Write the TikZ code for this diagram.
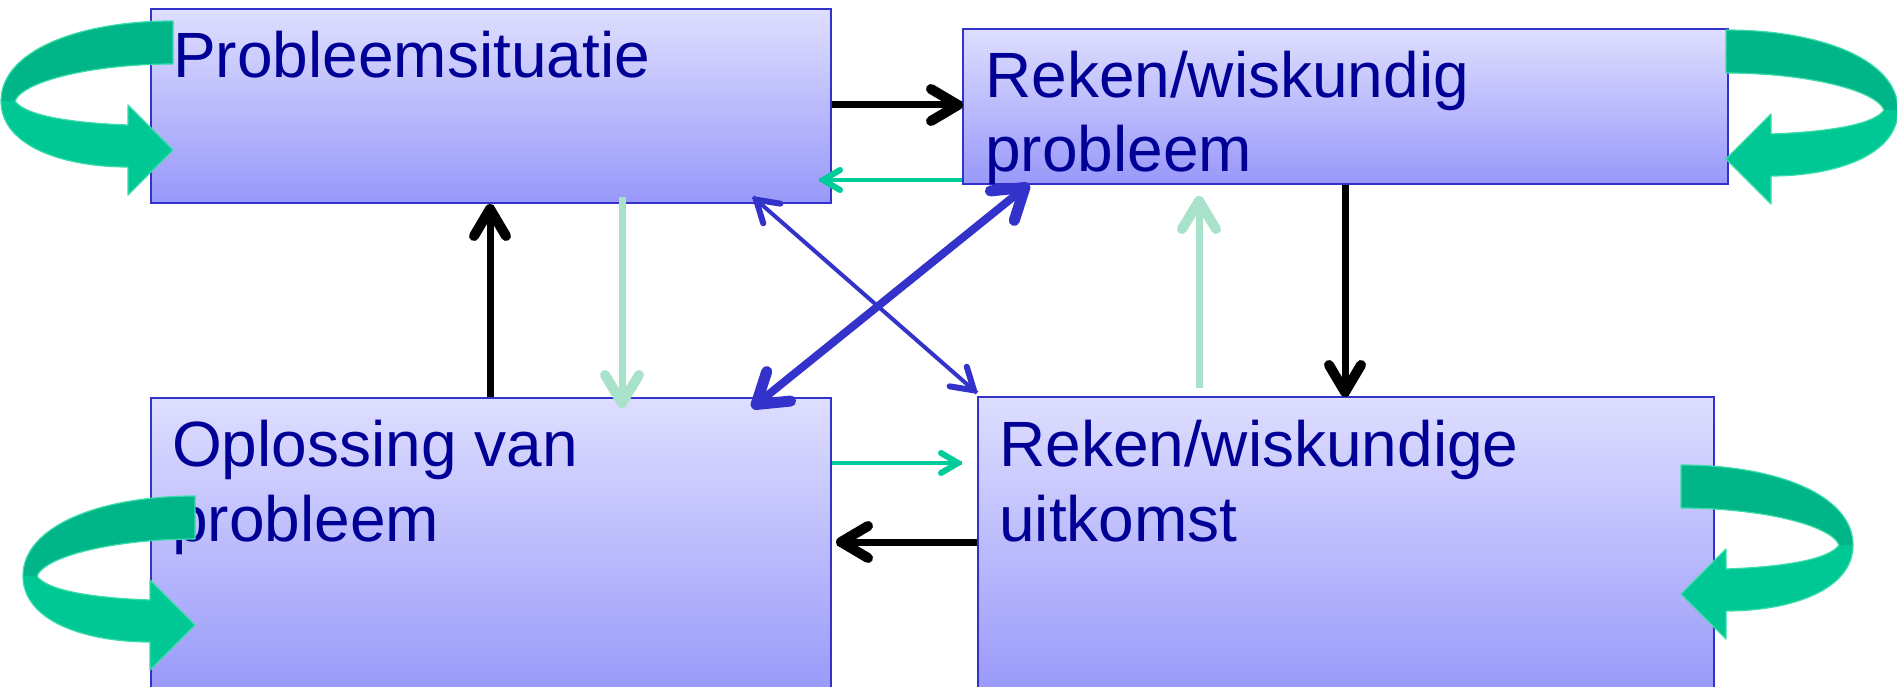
\documentclass[tikz,border=0pt]{standalone}
\usepackage{fontspec}
\setmainfont{Liberation Sans}
\usetikzlibrary{calc,decorations.markings}
\definecolor{boxborder}{RGB}{51,51,204}
\definecolor{boxtop}{RGB}{222,222,255}
\definecolor{boxbot}{RGB}{152,152,250}
\definecolor{txt}{RGB}{0,0,150}
\definecolor{lgreen}{RGB}{168,226,202}
\definecolor{mgreen}{RGB}{0,204,153}
\definecolor{rlight}{RGB}{0,200,148}
\definecolor{rdark}{RGB}{0,182,136}
\definecolor{rborder}{RGB}{60,220,170}
\definecolor{bluearr}{RGB}{51,51,204}
\begin{document}
\begin{tikzpicture}[x=1pt,y=-1pt,
  boxst/.style={draw=boxborder, line width=2pt, top color=boxtop, bottom color=boxbot, anchor=north west, inner sep=0pt, rectangle},
  lbl/.style={text=txt, font=\fontsize{64}{74}\selectfont, anchor=base west, inner sep=0pt},
  endtip/.style n args={4}{postaction={decorate,decoration={markings,
     mark=at position 1 with {\draw[draw=#4,line width=#3,line cap=round,line join=round]
       (-#1,#2) -- (-4,0) -- (-#1,-#2);}}}},
  starttip/.style n args={4}{postaction={decorate,decoration={markings,
     mark=at position 0 with {\draw[draw=#4,line width=#3,line cap=round,line join=round]
       (#1,#2) -- (4,0) -- (#1,-#2);}}}},
  blk/.style={draw=black, line width=7pt, endtip={31}{16}{10pt}{black}},
  lgr/.style={draw=lgreen, line width=7pt, endtip={32}{17}{10pt}{lgreen}},
  grn/.style={draw=mgreen, line width=4pt, endtip={21}{10}{6pt}{mgreen}},
  bthin/.style={draw=bluearr, line width=4pt, endtip={25}{13}{6pt}{bluearr}, starttip={25}{13}{6pt}{bluearr}},
  bthick/.style={draw=bluearr, line width=8pt, endtip={33}{19}{11pt}{bluearr}, starttip={33}{19}{11pt}{bluearr}},
  ribbon/.pic={
    \fill[rlight] (0,0) .. controls (-95,0) and (-172,30) .. (-172,80)
      .. controls (-172,125) and (-110,146) .. (-45,146) -- (-45,174) -- (0,129) -- (-45,84) -- (-45,104)
      .. controls (-100,102) and (-148,95) .. (-158,80)
      .. controls (-150,60) and (-80,43) .. (0,43) -- cycle;
    \fill[rdark] (0,0) .. controls (-95,0) and (-172,30) .. (-172,80) -- (-158,80)
      .. controls (-150,60) and (-80,43) .. (0,43) -- cycle;
    \draw[rborder, line width=1.2pt, line join=round] (0,0) .. controls (-95,0) and (-172,30) .. (-172,80)
      .. controls (-172,125) and (-110,146) .. (-45,146) -- (-45,174) -- (0,129) -- (-45,84) -- (-45,104)
      .. controls (-100,102) and (-148,95) .. (-158,80)
      .. controls (-150,60) and (-80,43) .. (0,43) -- cycle;
  }]
\fill[white] (0,0) rectangle (1897,687);
\useasboundingbox (0,0) rectangle (1897,687);

% boxes
\node[boxst, minimum width=680pt, minimum height=194pt] (A) at (150,8) {};
\node[boxst, minimum width=765pt, minimum height=155pt] (B) at (962,28) {};
\node[boxst, minimum width=680pt, minimum height=300pt] (C) at (150,397) {};
\node[boxst, minimum width=736pt, minimum height=300pt] (D) at (977,396) {};

% texts
\node[lbl] (tA) at (173,78) {Probleemsituatie};
\node[lbl] (tB1) at (985,98) {Reken/wiskundig};
\node[lbl] (tB2) at (985,172) {probleem};
\node[lbl] (tC1) at (172,466) {Oplossing van};
\node[lbl] (tC2) at (172,541) {probleem};
\node[lbl] (tD1) at (999,466) {Reken/wiskundige};
\node[lbl] (tD2) at (999,541) {uitkomst};

% connectors
\draw[blk] (A.east |- 0,105) -- (B.west |- 0,105);
\draw[grn] (B.west |- 0,180) -- ($(A.east |- 0,180)+(-13,0)$);
\draw[lgr] ($(A.south -| 622,0)+(0,-7)$) -- ($(C.north -| 622,0)+(0,10)$);
\draw[blk] (C.north -| 490,0) -- ($(A.south -| 490,0)+(0,1)$);
\draw[bthin] ($(A.south -| 753,0)+(0,-7)$) -- ($(D.north west)+(0,-3)$);
\draw[bthick] (B.south -| 1028,0) -- ($(C.north -| 753,0)+(0,10)$);
\draw[lgr] ($(D.north -| 1199,0)+(0,-8)$) -- ($(B.south -| 1199,0)+(0,12)$);
\draw[blk] (B.south -| 1345,0) -- (D.north -| 1345,0);
\draw[grn] (C.east |- 0,463) -- ($(D.west |- 0,463)+(-15,0)$);
\draw[blk] (D.west |- 0,542) -- ($(C.east |- 0,542)+(5,0)$);

% curved ribbon arrows
\pic at (173,21) {ribbon};
\pic at (195,496) {ribbon};
\pic[xscale=-1] at (1726,30) {ribbon};
\pic[xscale=-1] at (1681,465) {ribbon};
\end{tikzpicture}
\end{document}
